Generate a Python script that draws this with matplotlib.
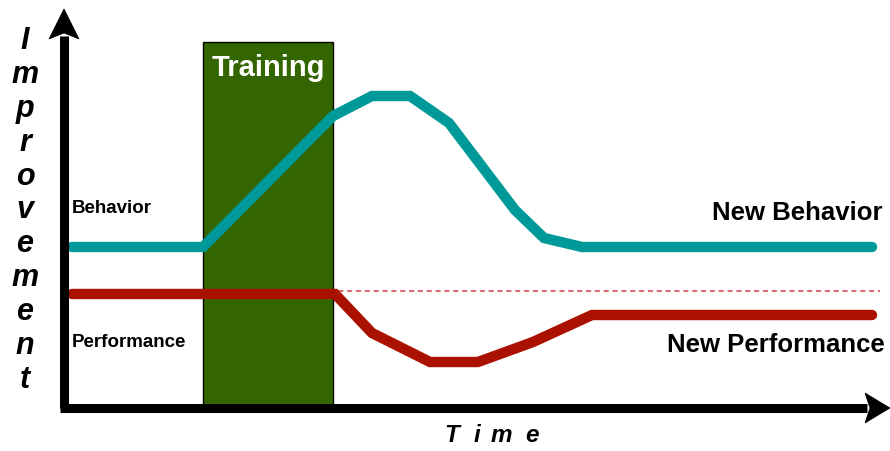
import matplotlib
matplotlib.use("Agg")
import matplotlib.pyplot as plt
from matplotlib.patches import Rectangle, Polygon

# Time runs to the right from the origin of the axes; improvement runs upward.
behavior_time = [8, 139, 269, 308, 346, 385, 451, 480, 518, 808]
behavior_level = [161, 161, 292, 312, 312, 285, 198, 170, 161, 161]

performance_time = [8, 271, 308, 366, 414, 469, 528, 808]
performance_level = [114, 114, 75, 46, 46, 66, 93, 93]

baseline_level = 117          # original performance level, dashed reference
training_start, training_end = 139, 269
training_height = 366

y_letters = list("Improvement")
x_letters = list("Time")

TEAL = "#009999"
RED = "#aa1100"
GREEN = "#336600"
FONT = "Liberation Sans"

fig = plt.figure(figsize=(8.9, 4.51), dpi=100)
ax = fig.add_axes([0, 0, 1, 1])
ax.set_xlim(-64, 826)
ax.set_ylim(-43, 408)
ax.axis("off")

# training period
ax.add_patch(Rectangle((training_start, 0), training_end - training_start, training_height,
                       facecolor=GREEN, edgecolor="black", linewidth=1.0, zorder=1))
ax.text((training_start + training_end) / 2, 340, "Training", color="white",
        fontsize=21, fontweight="bold", family=FONT, ha="center", va="center", zorder=5)

# dashed reference at the original performance level
ax.plot([0, 816], [baseline_level, baseline_level], color="#e05a64", linewidth=1.3,
        dashes=(2.8, 2.1), zorder=2)

# curves
ax.plot(behavior_time, behavior_level, color=TEAL, linewidth=7.5,
        solid_capstyle="round", solid_joinstyle="miter", zorder=3)
ax.plot(performance_time, performance_level, color=RED, linewidth=7.5,
        solid_capstyle="round", solid_joinstyle="miter", zorder=3)

# axes with arrowheads
ax.plot([0, 0], [0, 372], color="black", linewidth=6.5, solid_capstyle="butt", zorder=4)
ax.plot([-4.5, 803], [0, 0], color="black", linewidth=6.5, solid_capstyle="butt", zorder=4)
ax.add_patch(Polygon([[0, 399], [-15, 369], [0, 375], [15, 369]], closed=True,
                     facecolor="black", edgecolor="black", linewidth=0.5, zorder=4))
ax.add_patch(Polygon([[826, 0], [801, 15], [806, 0], [801, -15]], closed=True,
                     facecolor="black", edgecolor="black", linewidth=0.5, zorder=4))

# labels along the curves
ax.text(8, 195, "Behavior", fontsize=13.5, fontweight="bold", family=FONT,
        ha="left", va="baseline")
ax.text(8, 61, "Performance", fontsize=13.5, fontweight="bold", family=FONT,
        ha="left", va="baseline")
ax.text(818, 188, "New Behavior", fontsize=18.5, fontweight="bold", family=FONT,
        ha="right", va="baseline")
ax.text(821, 56, "New Performance", fontsize=18.5, fontweight="bold", family=FONT,
        ha="right", va="baseline")

# vertical axis title, one letter per row
for i, ch in enumerate(y_letters):
    ax.text(-39, 359 - i * 33.9, ch, fontsize=22, fontweight="bold", style="italic",
            family=FONT, ha="center", va="baseline")

# horizontal axis title, spaced letters
for x, ch in zip([388, 413, 437, 468], x_letters):
    ax.text(x, -34, ch, fontsize=17.5, fontweight="bold", style="italic",
            family=FONT, ha="center", va="baseline")

fig.savefig("out.png", dpi=100)
